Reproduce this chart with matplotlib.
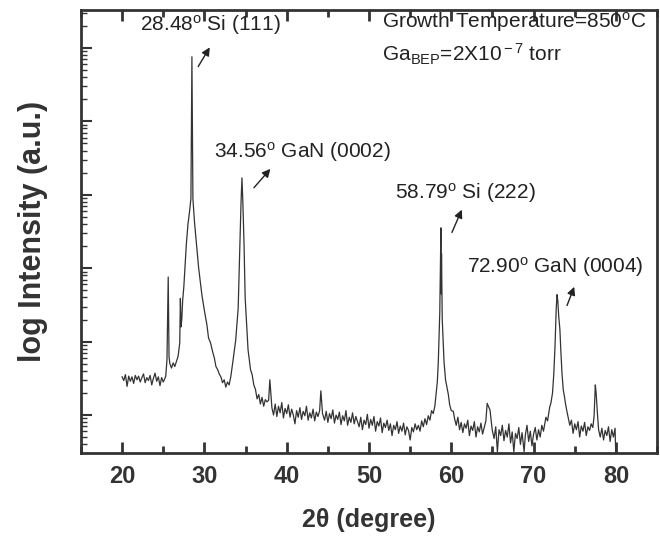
import matplotlib
matplotlib.use('Agg')
import matplotlib.pyplot as plt
from matplotlib.ticker import LogLocator, NullFormatter, MultipleLocator
import numpy as np

plt.rcParams['font.family'] = ['Liberation Sans', 'DejaVu Sans']
plt.rcParams['mathtext.fontset'] = 'custom'
plt.rcParams['mathtext.rm'] = 'Liberation Sans'
plt.rcParams['mathtext.it'] = 'Liberation Sans:italic'
plt.rcParams['mathtext.bf'] = 'Liberation Sans:bold'

# XRD scan: (2theta in degree, log10 of intensity)
scan_points = [
    # flat background before the substrate peaks
    (20.0, 1.52), (20.2, 1.47), (20.4, 1.55), (20.6, 1.39), (20.8, 1.53), (21.0, 1.46),
    (21.2, 1.52), (21.4, 1.43), (21.6, 1.54), (21.8, 1.48), (22.0, 1.53), (22.2, 1.45),
    (22.4, 1.51), (22.6, 1.56), (22.8, 1.44), (23.0, 1.51), (23.2, 1.47), (23.4, 1.54),
    (23.6, 1.41), (23.8, 1.50), (24.0, 1.57), (24.2, 1.46), (24.4, 1.52), (24.6, 1.40),
    (24.8, 1.51), (25.0, 1.45), (25.2, 1.50),
    # 25.6 spike, shoulder and Si (111)
    (25.3, 1.53), (25.45, 1.75), (25.55, 2.5), (25.6, 2.88), (25.65, 2.3), (25.7, 1.79),
    (25.8, 1.70), (26.0, 1.64), (26.2, 1.71), (26.4, 1.66), (26.6, 1.73), (26.8, 1.80),
    (27.0, 1.98), (27.08, 2.59), (27.15, 2.2), (27.25, 2.3), (27.35, 2.55), (27.5, 2.75),
    (27.8, 3.32), (28.0, 3.60), (28.2, 3.78), (28.36, 3.95), (28.42, 5.0), (28.48, 5.88),
    (28.54, 5.0), (28.6, 3.95), (28.8, 3.62), (29.04, 3.32), (29.3, 3.0), (29.7, 2.63),
    (30.0, 2.42), (30.3, 2.23), (30.5, 2.05), (30.75, 1.98), (31.0, 1.86), (31.2, 1.78),
    (31.4, 1.66), (31.6, 1.62), (31.8, 1.56), (32.0, 1.52), (32.2, 1.44), (32.4, 1.48),
    (32.6, 1.38), (32.8, 1.45), (33.0, 1.41), (33.2, 1.52), (33.45, 1.72), (33.8, 2.02),
    # GaN (0002)
    (34.1, 2.45), (34.3, 3.3), (34.45, 3.9), (34.56, 4.23), (34.67, 3.9), (34.82, 3.3),
    (34.95, 2.6), (35.3, 1.89), (35.6, 1.62), (35.8, 1.55), (36.0, 1.41), (36.2, 1.35),
    (36.4, 1.22), (36.6, 1.28), (36.8, 1.15), (37.0, 1.24), (37.2, 1.12), (37.4, 1.21),
    (37.6, 1.18), (37.8, 1.20), (37.95, 1.48), (38.1, 1.25), (38.2, 1.10), (38.4, 1.00),
    (38.6, 1.15), (38.8, 0.98), (39.0, 1.12), (39.2, 1.03), (39.4, 1.17), (39.6, 0.96),
    (39.8, 1.09), (40.0, 1.02), (40.2, 1.14), (40.4, 0.97), (40.6, 1.08), (40.8, 1.00),
    (41.0, 0.88), (41.2, 1.06), (41.4, 0.97), (41.6, 1.10), (41.8, 0.94), (42.0, 1.05),
    (42.2, 0.99), (42.4, 1.12), (42.6, 0.93), (42.8, 1.03), (43.0, 0.96), (43.2, 1.08),
    (43.4, 0.92), (43.6, 1.04), (43.8, 0.98), (44.0, 1.06), (44.15, 1.33), (44.35, 1.02),
    (44.6, 0.93), (44.8, 1.05), (45.0, 0.90), (45.2, 1.02), (45.4, 0.95), (45.6, 1.07),
    (45.8, 0.89), (46.0, 1.00), (46.2, 0.94), (46.4, 1.04), (46.6, 0.87), (46.8, 0.99),
    (47.0, 0.92), (47.2, 1.06), (47.4, 0.86), (47.6, 0.97), (47.8, 0.90), (48.0, 1.03),
    (48.2, 0.88), (48.4, 0.98), (48.6, 0.91), (48.8, 0.84), (49.0, 0.97), (49.2, 0.80),
    (49.4, 0.93), (49.6, 0.87), (49.8, 1.01), (50.0, 0.82), (50.2, 0.94), (50.4, 0.86),
    (50.6, 0.98), (50.8, 0.78), (51.0, 0.91), (51.2, 0.85), (51.4, 0.96), (51.6, 0.76),
    (51.8, 0.89), (52.0, 0.83), (52.2, 0.93), (52.4, 0.79), (52.6, 0.88), (52.8, 0.72),
    (53.0, 0.86), (53.2, 0.80), (53.4, 0.91), (53.6, 0.75), (53.8, 0.85), (54.0, 0.78),
    (54.2, 0.89), (54.4, 0.73), (54.6, 0.84), (54.8, 0.79), (55.0, 0.66), (55.2, 0.83),
    (55.4, 0.77), (55.6, 0.88), (55.8, 0.80), (56.0, 0.86), (56.2, 0.78), (56.4, 0.92),
    (56.6, 0.84), (56.8, 0.95), (57.0, 0.87), (57.2, 0.99), (57.4, 0.93), (57.6, 1.06),
    (57.8, 1.02), (58.0, 1.12), (58.15, 1.28), (58.3, 1.45),
    # Si (222)
    (58.42, 1.72), (58.6, 2.4), (58.74, 3.55), (58.78, 2.65), (58.81, 3.2), (58.9, 2.3),
    (59.12, 1.72), (59.3, 1.48), (59.5, 1.36), (59.64, 1.28), (59.8, 1.14), (60.0, 1.06),
    (60.24, 1.05), (60.4, 0.95), (60.6, 0.86), (60.8, 0.97), (61.0, 0.80), (61.2, 0.90),
    (61.4, 0.76), (61.6, 0.88), (61.8, 0.82), (62.0, 0.93), (62.2, 0.72), (62.4, 0.85),
    (62.6, 0.79), (62.8, 0.91), (63.0, 0.70), (63.2, 0.84), (63.4, 0.77), (63.6, 0.89),
    (63.8, 0.74), (64.0, 0.83), (64.2, 0.92), (64.36, 1.16), (64.5, 1.12), (64.7, 1.07),
    (64.97, 0.80), (65.2, 0.68), (65.4, 0.84), (65.6, 0.50), (65.8, 0.80), (66.0, 0.72),
    (66.2, 0.86), (66.4, 0.65), (66.6, 0.79), (66.8, 0.70), (67.0, 0.88), (67.2, 0.62),
    (67.4, 0.77), (67.6, 0.50), (67.8, 0.75), (68.0, 0.68), (68.2, 0.83), (68.4, 0.60),
    (68.6, 0.76), (68.85, 0.50), (69.0, 0.73), (69.2, 0.86), (69.4, 0.64), (69.6, 0.78),
    (69.8, 0.58), (70.0, 0.74), (70.2, 0.83), (70.4, 0.66), (70.6, 0.80), (70.8, 0.70),
    (71.0, 0.86), (71.2, 0.78), (71.5, 0.97), (71.7, 0.92), (71.96, 1.11), (72.1, 1.16),
    # GaN (0004)
    (72.3, 1.30), (72.45, 1.55), (72.6, 1.93), (72.75, 2.45), (72.85, 2.64), (72.95, 2.55),
    (73.05, 2.35), (73.2, 2.16), (73.3, 1.9), (73.45, 1.57), (73.6, 1.35), (73.75, 1.25),
    (73.9, 1.14), (74.05, 1.05), (74.2, 0.97), (74.4, 0.86), (74.6, 0.93), (74.8, 0.75),
    (75.0, 0.88), (75.2, 0.80), (75.4, 0.91), (75.6, 0.70), (75.8, 0.85), (76.0, 0.78),
    (76.2, 0.90), (76.4, 0.72), (76.6, 0.84), (76.8, 0.79), (77.0, 0.88), (77.2, 0.83),
    (77.35, 0.98), (77.5, 1.41), (77.6, 1.30), (77.75, 1.03), (77.9, 0.80), (78.1, 0.70),
    (78.3, 0.82), (78.5, 0.66), (78.7, 0.79), (78.9, 0.72), (79.1, 0.84), (79.3, 0.64),
    (79.5, 0.80), (79.7, 0.70), (79.9, 0.82), (80.0, 0.40),
]

peak_labels = ['28.48$^{\\rm o}$ Si (111)', '34.56$^{\\rm o}$ GaN (0002)',
               '58.79$^{\\rm o}$ Si (222)', '72.90$^{\\rm o}$ GaN (0004)']
# label text position and arrow tail/head, in axes fraction
label_xy = [(0.224, 0.966), (0.384, 0.679), (0.667, 0.587), (0.823, 0.420)]
arrow_tail = [(0.201, 0.867), (0.297, 0.594), (0.642, 0.492), (0.842, 0.327)]
arrow_head = [(0.226, 0.921), (0.332, 0.646), (0.663, 0.555), (0.858, 0.381)]

two_theta, log_counts = np.array(scan_points).T
counts = 10 ** log_counts

fig = plt.figure(figsize=(6.6, 5.41), dpi=100)
ax = fig.add_axes([0.1227, 0.1627, 0.8728, 0.8188])

ax.plot(two_theta, counts, color='#333333', lw=0.9)

ax.set_yscale('log')
ax.set_xlim(15, 85)
ax.set_ylim(10 ** 0.483, 10 ** 6.517)

ax.xaxis.set_major_locator(MultipleLocator(10))
ax.xaxis.set_minor_locator(MultipleLocator(5))
ax.yaxis.set_major_locator(LogLocator(base=10, numticks=20))
ax.yaxis.set_minor_locator(LogLocator(base=10, subs=np.arange(2, 10), numticks=20))
ax.yaxis.set_major_formatter(NullFormatter())
ax.yaxis.set_minor_formatter(NullFormatter())

ax.tick_params(axis='x', which='both', direction='in', top=True, bottom=True,
               labelsize=17, colors='#333333', pad=9)
ax.tick_params(axis='x', which='major', length=8, width=2)
ax.tick_params(axis='x', which='minor', length=5, width=2)
ax.tick_params(axis='y', which='both', direction='in', left=True, right=False, colors='#333333')
ax.tick_params(axis='y', which='major', length=8, width=1.5)
ax.tick_params(axis='y', which='minor', length=4, width=1)
for lab in ax.get_xticklabels():
    lab.set_fontweight('bold')

for sp in ax.spines.values():
    sp.set_linewidth(2)
    sp.set_color('#333333')

ax.set_xlabel('2\u03b8 (degree)', fontsize=18, fontweight='bold', color='#333333', labelpad=14)
ax.set_ylabel('log Intensity (a.u.)', fontsize=22, fontweight='bold', color='#333333', labelpad=20)

for text, txy, tail, head in zip(peak_labels, label_xy, arrow_tail, arrow_head):
    ax.text(txy[0], txy[1], text, transform=ax.transAxes, ha='center', va='center',
            fontsize=15, color='#222222')
    ax.annotate('', xy=head, xytext=tail, xycoords='axes fraction', textcoords='axes fraction',
                arrowprops=dict(arrowstyle='-|>', color='#222222', lw=1, mutation_scale=12))

ax.text(0.523, 0.972, 'Growth Temperature=850$^{\\rm o}$C', transform=ax.transAxes,
        ha='left', va='center', fontsize=15, color='#222222')
ax.text(0.523, 0.900, 'Ga$_{\\rm BEP}$=2X10$^{\\rm -7}$ torr', transform=ax.transAxes,
        ha='left', va='center', fontsize=15, color='#222222')

fig.savefig('out.png', dpi=100)
